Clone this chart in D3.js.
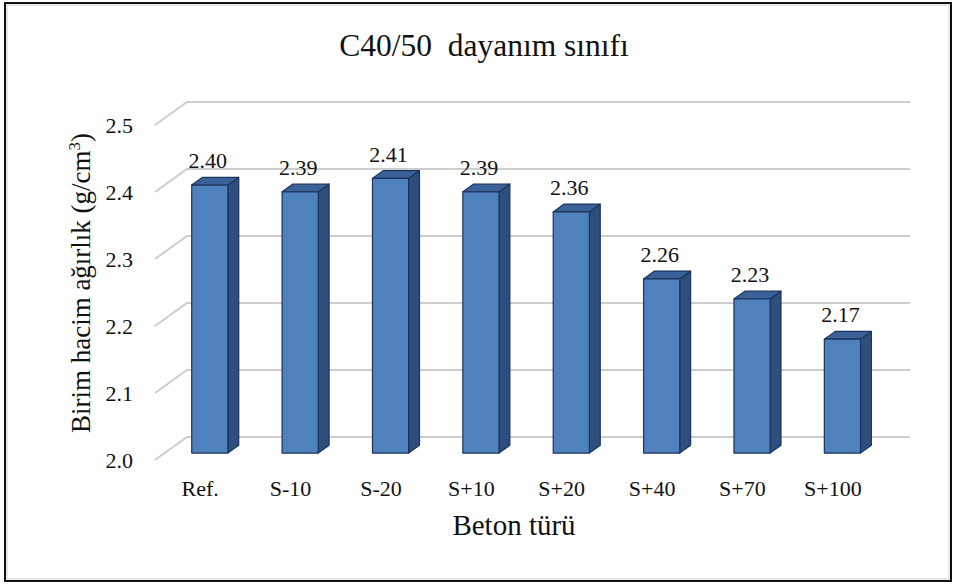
<!DOCTYPE html>
<html>
<head>
<meta charset="utf-8">
<script src="https://cdn.jsdelivr.net/npm/d3@7/dist/d3.min.js"></script>
<style>
  html, body { margin: 0; padding: 0; background: #fff; }
  svg { display: block; }
  text { font-family: "Liberation Serif", "Times New Roman", "DejaVu Serif", serif; }
</style>
</head>
<body>
<svg id="chart" width="955" height="585"></svg>
<script>
// ---- data ----
const categories = ["Ref.", "S-10", "S-20", "S+10", "S+20", "S+40", "S+70", "S+100"];
const values = [2.40, 2.39, 2.41, 2.39, 2.36, 2.26, 2.23, 2.17];
const yTicks = [2.0, 2.1, 2.2, 2.3, 2.4, 2.5];
const titleText = "C40/50\u00a0\u00a0dayanım sınıfı";
const xTitle = "Beton türü";
const yTitle = "Birim hacim ağırlık (g/cm";

// ---- layout ----
const FONT = "'Liberation Serif', 'Times New Roman', 'DejaVu Serif', serif";
const svg = d3.select("#chart").attr("font-family", FONT);
const frontLeft = 155, frontRight = 878;
const depthDX = 32, depthDY = -23;      // full 3D depth offset
const barDepthStart = 0.30, barDepthEnd = 0.64;

const x = d3.scaleBand().domain(categories).range([frontLeft, frontRight]).paddingInner(0.6).paddingOuter(0.3);
const y = d3.scaleLinear().domain([2.0, 2.5]).range([460, 125]);

// outer frame
svg.append("rect").attr("x", 5).attr("y", 3).attr("width", 946).attr("height", 578)
  .attr("fill", "#fff").attr("stroke", "#111").attr("stroke-width", 2);
svg.append("rect").attr("x", 7).attr("y", 5).attr("width", 942).attr("height", 574)
  .attr("fill", "none").attr("stroke", "#cfcfcf").attr("stroke-width", 1);

// title
svg.append("text").attr("x", 484).attr("y", 56).attr("text-anchor", "middle")
  .attr("font-family", FONT).attr("font-size", 31.5).attr("fill", "#111").text(titleText);

// gridlines: side wall diagonals + back wall horizontals
const grid = svg.append("g").attr("stroke", "#cdcdcd").attr("stroke-width", 2).attr("fill", "none");
yTicks.forEach(t => {
  const yy = y(t);
  grid.append("path").attr("d",
    `M${frontLeft},${yy} L${frontLeft + depthDX},${yy + depthDY} L${frontRight + depthDX},${yy + depthDY}`);
});

// y tick labels
svg.append("g").selectAll("text").data(yTicks).join("text")
  .attr("x", 133).attr("y", d => y(d) + 8).attr("text-anchor", "end")
  .attr("font-family", FONT).attr("font-size", 22).attr("fill", "#111").text(d => d.toFixed(1));

// bars (3D)
const bw = x.bandwidth();
const bdx0 = depthDX * barDepthStart, bdy0 = depthDY * barDepthStart;
const bdx = depthDX * (barDepthEnd - barDepthStart), bdy = depthDY * (barDepthEnd - barDepthStart);
const bars = svg.append("g");
categories.forEach((c, i) => {
  const x0 = x(c) + bdx0, x1 = x0 + bw;
  const yb = y(2.0) + bdy0, yt = y(values[i]) + bdy0;
  const g = bars.append("g").attr("stroke", "#1c355e").attr("stroke-width", 1.2).attr("stroke-linejoin", "round");
  g.append("path").attr("fill", "#2e4f7e")
    .attr("d", `M${x1},${yt} L${x1 + bdx},${yt + bdy} L${x1 + bdx},${yb + bdy} L${x1},${yb} Z`);
  g.append("path").attr("fill", "#3a6198")
    .attr("d", `M${x0},${yt} L${x0 + bdx},${yt + bdy} L${x1 + bdx},${yt + bdy} L${x1},${yt} Z`);
  g.append("rect").attr("x", x0).attr("y", yt).attr("width", bw).attr("height", yb - yt).attr("fill", "#4f81bd");
  svg.append("text").attr("x", x0 + bw / 2 - 2).attr("y", yt + bdy - 9).attr("text-anchor", "middle")
    .attr("font-family", FONT).attr("font-size", 22).attr("fill", "#111").text(values[i].toFixed(2));
});

// category labels
svg.append("g").selectAll("text").data(categories).join("text")
  .attr("x", d => x(d) + bw / 2).attr("y", 496).attr("text-anchor", "middle")
  .attr("font-family", FONT).attr("font-size", 22).attr("fill", "#111").text(d => d);

// axis titles
svg.append("text").attr("x", 514).attr("y", 535).attr("text-anchor", "middle")
  .attr("font-family", FONT).attr("font-size", 29).attr("fill", "#111").text(xTitle);
const ytl = svg.append("text").attr("transform", "translate(90,283) rotate(-90)").attr("text-anchor", "middle")
  .attr("font-family", FONT).attr("font-size", 27).attr("fill", "#111");
ytl.append("tspan").text(yTitle);
ytl.append("tspan").attr("font-size", 17).attr("dy", -10).text("3");
ytl.append("tspan").attr("dy", 10).text(")");
</script>
</body>
</html>
